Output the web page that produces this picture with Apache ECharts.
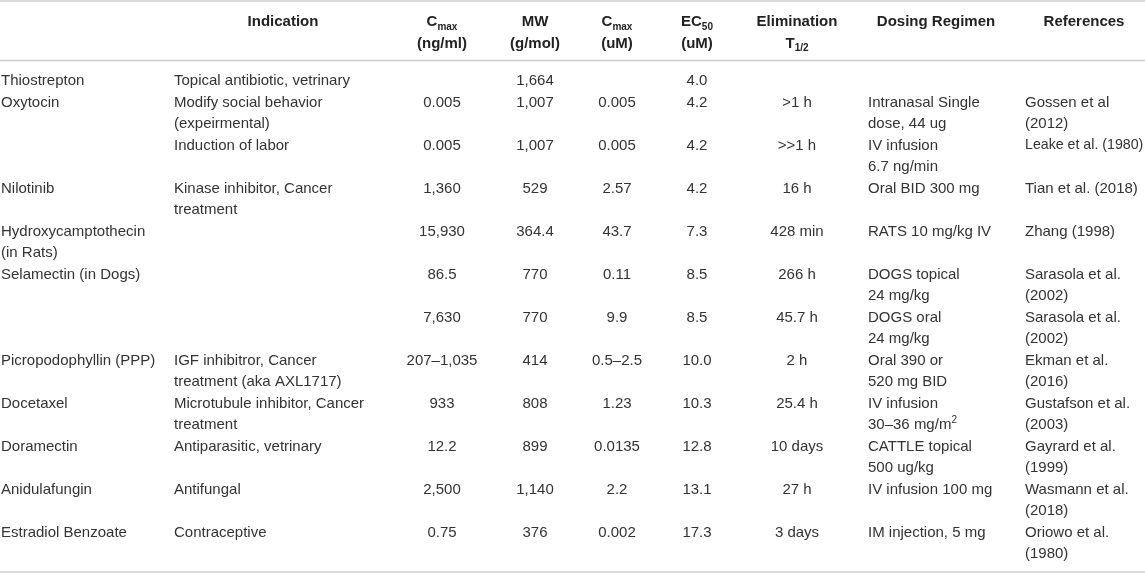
<!DOCTYPE html>
<html><head><meta charset="utf-8">
<script src="https://cdn.jsdelivr.net/npm/echarts@6/dist/echarts.min.js"></script>
<style>html,body{margin:0;padding:0;background:#fff}#c{width:1145px;height:573px}</style>
</head><body><div id="c"></div>
<script>
// ---- table content ----
const headers = ['', 'Indication', 'C<sub>max</sub>\n(ng/ml)', 'MW\n(g/mol)', 'C<sub>max</sub>\n(uM)', 'EC<sub>50</sub>\n(uM)', 'Elimination\nT<sub>1/2</sub>', 'Dosing Regimen', 'References'];
const drugs = ['Thiostrepton', 'Oxytocin', '', 'Nilotinib', 'Hydroxycamptothecin\n(in Rats)', 'Selamectin (in Dogs)', '', 'Picropodophyllin (PPP)', 'Docetaxel', 'Doramectin', 'Anidulafungin', 'Estradiol Benzoate'];
const indications = ['Topical antibiotic, vetrinary', 'Modify social behavior\n(expeirmental)', 'Induction of labor', 'Kinase inhibitor, Cancer\ntreatment', '', '', '', 'IGF inhibitror, Cancer\ntreatment (aka AXL1717)', 'Microtubule inhibitor, Cancer\ntreatment', 'Antiparasitic, vetrinary', 'Antifungal', 'Contraceptive'];
const cmaxNg = ['', '0.005', '0.005', '1,360', '15,930', '86.5', '7,630', '207–1,035', '933', '12.2', '2,500', '0.75'];
const mw = ['1,664', '1,007', '1,007', '529', '364.4', '770', '770', '414', '808', '899', '1,140', '376'];
const cmaxUm = ['', '0.005', '0.005', '2.57', '43.7', '0.11', '9.9', '0.5–2.5', '1.23', '0.0135', '2.2', '0.002'];
const ec50 = ['4.0', '4.2', '4.2', '4.2', '7.3', '8.5', '8.5', '10.0', '10.3', '12.8', '13.1', '17.3'];
const elimination = ['', '>1 h', '>>1 h', '16 h', '428 min', '266 h', '45.7 h', '2 h', '25.4 h', '10 days', '27 h', '3 days'];
const dosing = ['', 'Intranasal Single\ndose, 44 ug', 'IV infusion\n6.7 ng/min', 'Oral BID 300 mg', 'RATS 10 mg/kg IV', 'DOGS topical\n24 mg/kg', 'DOGS oral\n24 mg/kg', 'Oral 390 or\n520 mg BID', 'IV infusion\n30–36 mg/m<sup>2</sup>', 'CATTLE topical\n500 ug/kg', 'IV infusion 100 mg', 'IM injection, 5 mg'];
const references = ['', 'Gossen et al\n(2012)', 'Leake et al. (1980)', 'Tian et al. (2018)', 'Zhang (1998)', 'Sarasola et al.\n(2002)', 'Sarasola et al.\n(2002)', 'Ekman et al.\n(2016)', 'Gustafson et al.\n(2003)', 'Gayrard et al.\n(1999)', 'Wasmann et al.\n(2018)', 'Oriowo et al.\n(1980)'];
const columns = [drugs, indications, cmaxNg, mw, cmaxUm, ec50, elimination, dosing, references];

// ---- layout (positions / styles) ----
const W = 1145, H = 573;
const colLayout = [
  { bx: 1, ba: 'left', hx: 1, ha: 'left' },
  { bx: 174, ba: 'left', hx: 283, ha: 'center' },
  { bx: 442, ba: 'center', hx: 442, ha: 'center' },
  { bx: 535, ba: 'center', hx: 535, ha: 'center' },
  { bx: 617, ba: 'center', hx: 617, ha: 'center' },
  { bx: 697, ba: 'center', hx: 697, ha: 'center' },
  { bx: 797, ba: 'center', hx: 797, ha: 'center' },
  { bx: 868, ba: 'left', hx: 936, ha: 'center' },
  { bx: 1025, ba: 'left', hx: 1084, ha: 'center' }
];
const LINE_H = 21.5, HEAD_TOP = 22, BODY_TOP = 81, TOP_RULE = 1, HEAD_RULE = 60.5, BOTTOM_PAD = 18;
const FONT = "'Liberation Sans', Arial, Helvetica, sans-serif";
const BODY_SIZE = 15;

const measureCtx = document.createElement('canvas').getContext('2d');
function fitsRight(line, x, size) {
  measureCtx.font = size + 'px ' + FONT;
  return x + measureCtx.measureText(line.replace(/<\/?su[bp]>/g, '')).width <= W - 2;
}

function toRich(line, bold, condensed) {
  const n = bold ? 'h' : (condensed ? 'c' : 'n');
  let out = '';
  const re = /<(sub|sup)>(.*?)<\/\1>/g;
  let last = 0, m;
  while ((m = re.exec(line))) {
    if (m.index > last) out += '{' + n + '|' + line.slice(last, m.index) + '}';
    out += '{' + (bold ? 'h' : 'n') + (m[1] === 'sub' ? 'b' : 'p') + '|' + m[2] + '}';
    last = re.lastIndex;
  }
  if (last < line.length) out += '{' + n + '|' + line.slice(last) + '}';
  return out;
}

const cells = [];
headers.forEach((h, ci) => {
  if (!h) return;
  h.split('\n').forEach((ln, k) => {
    cells.push({ x: colLayout[ci].hx, y: HEAD_TOP + k * LINE_H, align: colLayout[ci].ha, text: toRich(ln, true, false) });
  });
});
let lineCursor = 0;
const nRows = drugs.length;
for (let r = 0; r < nRows; r++) {
  let maxLines = 1;
  columns.forEach((col, ci) => {
    const v = col[r];
    if (!v) return;
    const lines = v.split('\n');
    maxLines = Math.max(maxLines, lines.length);
    lines.forEach((ln, k) => {
      const L = colLayout[ci];
      const condensed = L.ba === 'left' && !fitsRight(ln, L.bx, BODY_SIZE);
      cells.push({ x: L.bx, y: BODY_TOP + (lineCursor + k) * LINE_H, align: L.ba, text: toRich(ln, false, condensed) });
    });
  });
  lineCursor += maxLines;
}
const bottomRule = BODY_TOP + (lineCursor - 1) * LINE_H + BOTTOM_PAD;
const rules = [TOP_RULE, HEAD_RULE, bottomRule];

const rich = {
  n: { fontFamily: FONT, fontSize: BODY_SIZE, fill: '#333', lineHeight: 20 },
  c: { fontFamily: FONT, fontSize: 14.2, fill: '#333', lineHeight: 20 },
  nb: { fontFamily: FONT, fontSize: 10, fill: '#333', lineHeight: 10, verticalAlign: 'bottom' },
  np: { fontFamily: FONT, fontSize: 10, fill: '#333', lineHeight: 10, verticalAlign: 'top' },
  h: { fontFamily: FONT, fontSize: 15, fontWeight: 'bold', fill: '#222', lineHeight: 20 },
  hb: { fontFamily: FONT, fontSize: 10, fontWeight: 'bold', fill: '#222', lineHeight: 10, verticalAlign: 'bottom' },
  hp: { fontFamily: FONT, fontSize: 10, fontWeight: 'bold', fill: '#222', lineHeight: 10, verticalAlign: 'top' }
};

const chart = echarts.init(document.getElementById('c'), null, { renderer: 'canvas' });
chart.setOption({
  animation: false,
  backgroundColor: '#fff',
  grid: { left: 0, right: 0, top: 0, bottom: 0 },
  xAxis: { type: 'value', min: 0, max: W, show: false },
  yAxis: { type: 'value', min: 0, max: H, inverse: true, show: false },
  series: [
    {
      type: 'custom', silent: true, clip: false,
      data: rules.map(y => [0, y, W]),
      renderItem: (params, api) => {
        const a = api.coord([api.value(0), api.value(1)]);
        const b = api.coord([api.value(2), api.value(1)]);
        return { type: 'line', shape: { x1: a[0], y1: a[1], x2: b[0], y2: b[1] }, style: { stroke: '#cccccc', lineWidth: 1.5 } };
      }
    },
    {
      type: 'custom', silent: true, clip: false,
      data: cells.map(c => [c.x, c.y]),
      renderItem: (params, api) => {
        const c = cells[params.dataIndex];
        const p = api.coord([api.value(0), api.value(1)]);
        return { type: 'text', style: { x: p[0], y: p[1], text: c.text, rich: rich, align: c.align, verticalAlign: 'middle', textAlign: c.align, textVerticalAlign: 'middle' } };
      }
    }
  ]
});
</script></body></html>
